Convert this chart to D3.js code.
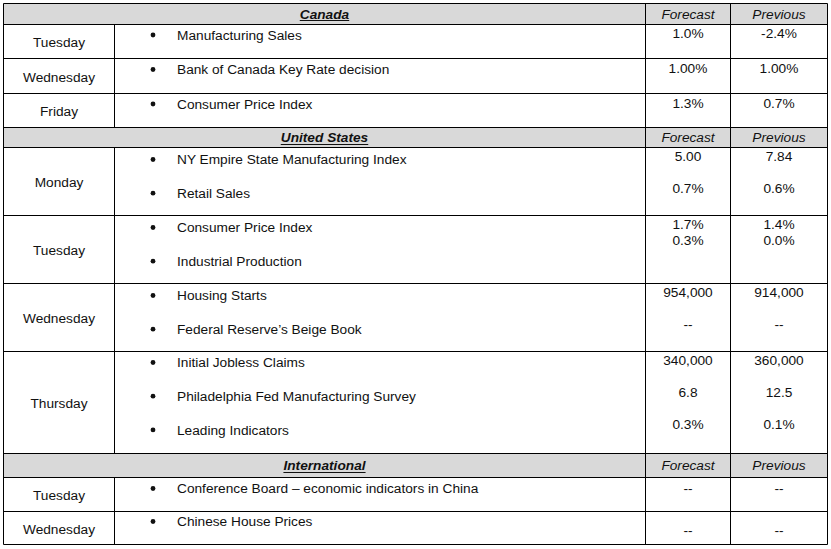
<!DOCTYPE html>
<html>
<head>
<meta charset="utf-8">
<script src="https://cdn.jsdelivr.net/npm/d3@7"></script>
<style>
body { margin: 0; background: #fff; }
svg { display: block; font-family: Arial, "Liberation Sans", sans-serif; }
</style>
</head>
<body>
<script>
// ---- data ----
var sections = ["Canada", "United States", "International"];
var columnTitles = ["Forecast", "Previous"];

var canadaDays = ["Tuesday", "Wednesday", "Friday"];
var canadaEvents = [["Manufacturing Sales"], ["Bank of Canada Key Rate decision"], ["Consumer Price Index"]];
var canadaForecast = [["1.0%"], ["1.00%"], ["1.3%"]];
var canadaPrevious = [["-2.4%"], ["1.00%"], ["0.7%"]];

var usDays = ["Monday", "Tuesday", "Wednesday", "Thursday"];
var usEvents = [
	["NY Empire State Manufacturing Index", "Retail Sales"],
	["Consumer Price Index", "Industrial Production"],
	["Housing Starts", "Federal Reserve\u2019s Beige Book"],
	["Initial Jobless Claims", "Philadelphia Fed Manufacturing Survey", "Leading Indicators"]
];
// "" is an empty line inside the cell
var usForecast = [["5.00", "", "0.7%"], ["1.7%", "0.3%"], ["954,000", "", "--"], ["340,000", "", "6.8", "", "0.3%"]];
var usPrevious = [["7.84", "", "0.6%"], ["1.4%", "0.0%"], ["914,000", "", "--"], ["360,000", "", "12.5", "", "0.1%"]];

var intlDays = ["Tuesday", "Wednesday"];
var intlEvents = [["Conference Board \u2013 economic indicators in China"], ["Chinese House Prices"]];
var intlForecast = [["--"], ["--"]];
var intlPrevious = [["--"], ["--"]];

// ---- layout ----
var colEdges = [3.5, 114.5, 645.5, 730.5, 827.5];
var tableTop = 3.5;
var headerH = [20.5, 20, 24];
var rowH = [[34.5, 34.5, 34.5], [68, 68, 68, 102], [34, 33]];
var valuePad = [[9, 10, 10.5], [8.5, 9, 9, 9], [11, 19]];
var itemPad = [[11, 11, 11], [12, 12, 12, 11], [11, 10]];
var fontSize = 13.7;

var allDays = [canadaDays, usDays, intlDays];
var allEvents = [canadaEvents, usEvents, intlEvents];
var allForecast = [canadaForecast, usForecast, intlForecast];
var allPrevious = [canadaPrevious, usPrevious, intlPrevious];

var svg = d3.select("body")
			.append("svg")
			.attr("width", 831)
			.attr("height", 549);

var x = d3.scaleOrdinal()
		.domain(["left", "day", "forecast", "previous", "right"])
		.range(colEdges);
var colMid = function(a, b) { return (x(a) + x(b)) / 2; };
var snap = function(v) { return Math.floor(v) + 0.5; }; // 1px rules on pixel centres

var valueLine = d3.scaleLinear().domain([0, 1]).range([0, 15.8]);
var itemLine = d3.scaleLinear().domain([0, 1]).range([0, 33.7]);

// build rows
var rows = [];
var yPos = tableTop;
sections.forEach(function(name, si) {
	rows.push({kind: "head", name: name, y0: yPos, y1: yPos + headerH[si]});
	yPos += headerH[si];
	allDays[si].forEach(function(day, di) {
		var h = rowH[si][di];
		rows.push({
			kind: "day", day: day,
			events: allEvents[si][di],
			forecast: allForecast[si][di],
			previous: allPrevious[si][di],
			vPad: valuePad[si][di], iPad: itemPad[si][di],
			y0: yPos, y1: yPos + h
		});
		yPos += h;
	});
});
var tableBottom = yPos;

var heads = rows.filter(function(r) { return r.kind == "head"; });
var days = rows.filter(function(r) { return r.kind == "day"; });

// header shading
svg.selectAll("rect.head")
	.data(heads)
	.enter().append("rect")
	.attr("class", "head")
	.attr("x", x("left"))
	.attr("y", function(d) { return snap(d.y0); })
	.attr("width", x("right") - x("left"))
	.attr("height", function(d) { return snap(d.y1) - snap(d.y0); })
	.style("fill", "#d9d9d9");

var lines = svg.append("g")
			.style("stroke", "#000")
			.style("stroke-width", 1);

// horizontal rules
lines.selectAll("line.h")
	.data(rows.map(function(r) { return r.y0; }).concat([tableBottom]))
	.enter().append("line")
	.attr("x1", x("left")).attr("x2", x("right"))
	.attr("y1", snap).attr("y2", snap);

// vertical rules
["left", "forecast", "previous", "right"].forEach(function(c) {
	lines.append("line")
		.attr("x1", x(c)).attr("x2", x(c))
		.attr("y1", snap(tableTop)).attr("y2", snap(tableBottom));
});
lines.selectAll("line.dayDiv")
	.data(days)
	.enter().append("line")
	.attr("x1", x("day")).attr("x2", x("day"))
	.attr("y1", function(d) { return snap(d.y0); })
	.attr("y2", function(d) { return snap(d.y1); });

var text = svg.append("g")
			.style("font-size", fontSize + "px")
			.style("fill", "#111");

// header labels
heads.forEach(function(h) {
	var cy = (h.y0 + h.y1) / 2;
	var t = text.append("text")
		.attr("x", colMid("left", "forecast"))
		.attr("y", cy)
		.attr("dy", "0.36em")
		.attr("text-anchor", "middle")
		.style("font-weight", "bold")
		.style("font-style", "italic")
		.text(h.name);
	var w = t.node().getComputedTextLength();
	svg.append("line")
		.attr("x1", colMid("left", "forecast") - w / 2)
		.attr("x2", colMid("left", "forecast") + w / 2)
		.attr("y1", snap(cy + 7)).attr("y2", snap(cy + 7))
		.style("stroke", "#111")
		.style("stroke-width", 1);
	text.append("text")
		.attr("x", colMid("forecast", "previous"))
		.attr("y", cy).attr("dy", "0.36em")
		.attr("text-anchor", "middle")
		.style("font-style", "italic")
		.text(columnTitles[0]);
	text.append("text")
		.attr("x", colMid("previous", "right"))
		.attr("y", cy).attr("dy", "0.36em")
		.attr("text-anchor", "middle")
		.style("font-style", "italic")
		.text(columnTitles[1]);
});

// day rows
days.forEach(function(r) {
	text.append("text")
		.attr("x", colMid("left", "day"))
		.attr("y", (r.y0 + r.y1) / 2 + 1)
		.attr("dy", "0.36em")
		.attr("text-anchor", "middle")
		.text(r.day);

	r.events.forEach(function(ev, i) {
		var cy = r.y0 + r.iPad + itemLine(i);
		svg.append("circle")
			.attr("cx", 153)
			.attr("cy", cy)
			.attr("r", 2.4)
			.style("fill", "#111");
		text.append("text")
			.attr("x", 177)
			.attr("y", cy)
			.attr("dy", "0.36em")
			.text(ev);
	});

	[["forecast", "previous", r.forecast], ["previous", "right", r.previous]].forEach(function(c) {
		c[2].forEach(function(v, i) {
			if (v === "") return;
			text.append("text")
				.attr("x", colMid(c[0], c[1]))
				.attr("y", r.y0 + r.vPad + valueLine(i))
				.attr("dy", "0.36em")
				.attr("text-anchor", "middle")
				.text(v);
		});
	});
});
</script>
</body>
</html>
